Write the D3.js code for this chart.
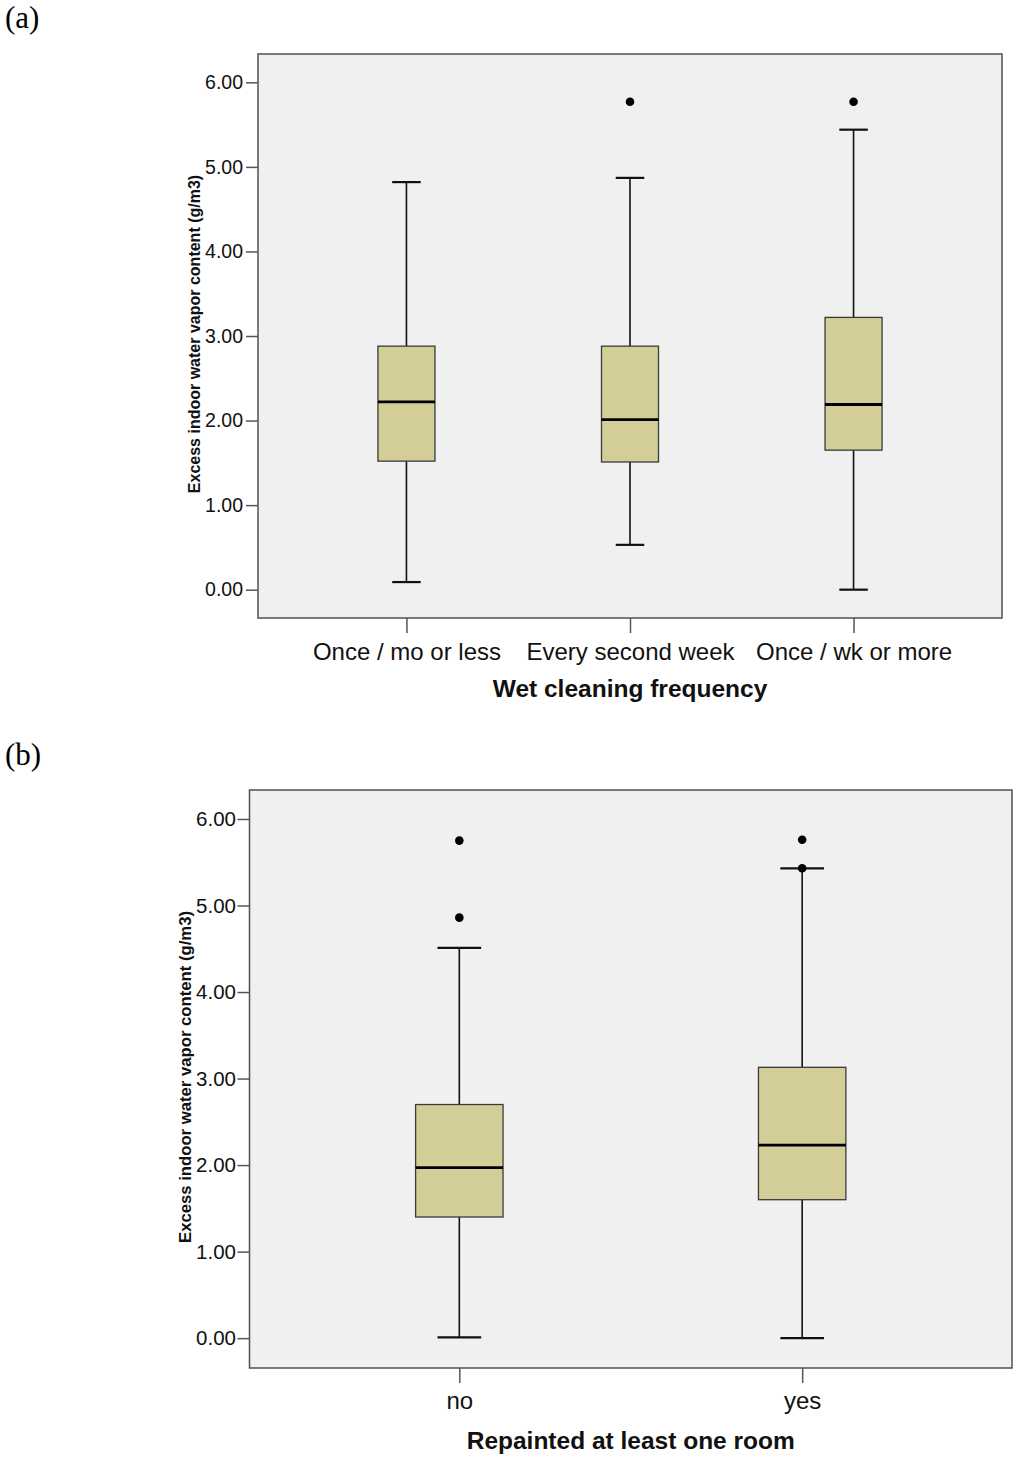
<!DOCTYPE html>
<html>
<head>
<meta charset="utf-8">
<script src="https://cdn.jsdelivr.net/npm/d3@7"></script>
<style>
	body { margin: 0; background: #fff; }
	svg { display: block; }
	text { font-family: Arial, "Liberation Sans", sans-serif; }
</style>
</head>
<body>
<div id="chart"></div>
<script>

// panel (a): wet cleaning frequency
let catsA = ['Once / mo or less', 'Every second week', 'Once / wk or more']
let lowA = [0.09, 0.53, 0.00]
let q1A = [1.52, 1.51, 1.65]
let medA = [2.22, 2.01, 2.19]
let q3A = [2.88, 2.88, 3.22]
let highA = [4.82, 4.87, 5.44]
let outA = [[], [5.77], [5.77]]

// panel (b): repainted at least one room
let catsB = ['no', 'yes']
let lowB = [0.01, 0.00]
let q1B = [1.40, 1.60]
let medB = [1.97, 2.23]
let q3B = [2.70, 3.13]
let highB = [4.51, 5.43]
let outB = [[5.75, 4.86], [5.76, 5.43]]

let yTicks = [0, 1, 2, 3, 4, 5, 6]

let width = 1024
let height = 1467

const svg = d3.select('#chart')
	.append('svg')
	.attr('width', width)
	.attr('height', height)

svg.append('rect')
	.attr('width', width)
	.attr('height', height)
	.attr('fill', 'white')

function drawPanel(opt){

	let boxes = opt.cats.map(function(c, i){
		return {'cat': c, 'low': opt.low[i], 'q1': opt.q1[i], 'med': opt.med[i],
			'q3': opt.q3[i], 'high': opt.high[i], 'out': opt.out[i]}
	})

	let xScale = d3.scalePoint()
		.domain(opt.cats)
		.range([opt.left, opt.right])
		.padding(opt.pad)

	let yScale = d3.scaleLinear()
		.domain(opt.yDomain)
		.range([opt.bottom, opt.top])

	let step = xScale.step()
	let boxW = step * 0.255
	let capW = boxW / 2

	let g = svg.append('g')

	g.append('rect')
		.attr('x', opt.left)
		.attr('y', opt.top)
		.attr('width', opt.right - opt.left)
		.attr('height', opt.bottom - opt.top)
		.attr('fill', '#f0f0f0')
		.attr('stroke', '#505050')
		.attr('stroke-width', 1.5)

	let yG = g.append('g')
		.attr('transform', `translate(${opt.left},0)`)
		.call(d3.axisLeft(yScale).tickValues(yTicks).tickFormat(d3.format('.2f')).tickSize(12).tickPadding(opt.yPad))
	yG.select('.domain').remove()
	yG.selectAll('line').attr('stroke', '#555').attr('stroke-width', 1.5)
	yG.selectAll('text').attr('fill', '#111').attr('font-size', opt.yFont)

	let xG = g.append('g')
		.attr('transform', `translate(0,${opt.bottom})`)
		.call(d3.axisBottom(xScale).tickSize(15).tickPadding(opt.xPad))
	xG.select('.domain').remove()
	xG.selectAll('line').attr('stroke', '#555').attr('stroke-width', 1.5)
	xG.selectAll('text').attr('fill', '#111').attr('font-size', 24)

	// whisker stems
	g.selectAll('.stem')
		.data(boxes)
		.enter()
		.append('line')
		.attr('x1', d => xScale(d.cat))
		.attr('x2', d => xScale(d.cat))
		.attr('y1', d => yScale(d.low))
		.attr('y2', d => yScale(d.high))
		.attr('stroke', '#111')
		.attr('stroke-width', 1.6)

	// whisker caps
	let caps = []
	boxes.forEach(function(d){
		caps.push({'cat': d.cat, 'v': d.low})
		caps.push({'cat': d.cat, 'v': d.high})
	})

	g.selectAll('.cap')
		.data(caps)
		.enter()
		.append('line')
		.attr('x1', d => xScale(d.cat) - capW / 2)
		.attr('x2', d => xScale(d.cat) + capW / 2)
		.attr('y1', d => yScale(d.v))
		.attr('y2', d => yScale(d.v))
		.attr('stroke', '#111')
		.attr('stroke-width', 2.2)

	g.selectAll('.box')
		.data(boxes)
		.enter()
		.append('rect')
		.attr('x', d => xScale(d.cat) - boxW / 2)
		.attr('width', boxW)
		.attr('y', d => yScale(d.q3))
		.attr('height', d => yScale(d.q1) - yScale(d.q3))
		.attr('fill', '#d3ce97')
		.attr('stroke', '#3a3a3a')
		.attr('stroke-width', 1.3)

	g.selectAll('.median')
		.data(boxes)
		.enter()
		.append('line')
		.attr('x1', d => xScale(d.cat) - boxW / 2)
		.attr('x2', d => xScale(d.cat) + boxW / 2)
		.attr('y1', d => yScale(d.med))
		.attr('y2', d => yScale(d.med))
		.attr('stroke', '#000')
		.attr('stroke-width', 2.8)

	let dots = []
	boxes.forEach(function(d){
		d.out.forEach(v => dots.push({'cat': d.cat, 'v': v}))
	})

	g.selectAll('.outlier')
		.data(dots)
		.enter()
		.append('circle')
		.attr('cx', d => xScale(d.cat))
		.attr('cy', d => yScale(d.v))
		.attr('r', 4.3)
		.attr('fill', '#000')

	g.append('text')
		.attr('x', (opt.left + opt.right) / 2)
		.attr('y', opt.xTitleY)
		.attr('text-anchor', 'middle')
		.attr('font-size', 24.5)
		.attr('font-weight', 'bold')
		.attr('fill', '#111')
		.text(opt.xTitle)

	g.append('text')
		.attr('transform', `translate(${opt.yTitleX},${(opt.top + opt.bottom) / 2 - 2}) rotate(-90)`)
		.attr('text-anchor', 'middle')
		.attr('font-size', opt.yTitleFont)
		.attr('font-weight', 'bold')
		.attr('fill', '#111')
		.text('Excess indoor water vapor content (g/m3)')

	svg.append('text')
		.attr('x', 5)
		.attr('y', opt.labelY)
		.style('font-family', '"Liberation Serif", "Times New Roman", serif')
		.attr('font-size', 31)
		.attr('fill', '#000')
		.text(opt.label)
}

drawPanel({
	cats: catsA, low: lowA, q1: q1A, med: medA, q3: q3A, high: highA, out: outA,
	left: 258, right: 1002, top: 54, bottom: 618, pad: 0.664,
	yDomain: [-0.335, 6.335], yPad: 3, yFont: 19.5, xPad: 10,
	xTitle: 'Wet cleaning frequency', xTitleY: 697,
	yTitleX: 200, yTitleFont: 16,
	label: '(a)', labelY: 28
})

drawPanel({
	cats: catsB, low: lowB, q1: q1B, med: medB, q3: q3B, high: highB, out: outB,
	left: 249.5, right: 1012, top: 790, bottom: 1368, pad: 0.612,
	yDomain: [-0.345, 6.335], yPad: 1.5, yFont: 20.5, xPad: 9,
	xTitle: 'Repainted at least one room', xTitleY: 1449,
	yTitleX: 191, yTitleFont: 16.7,
	label: '(b)', labelY: 765
})

</script>
</body>
</html>
